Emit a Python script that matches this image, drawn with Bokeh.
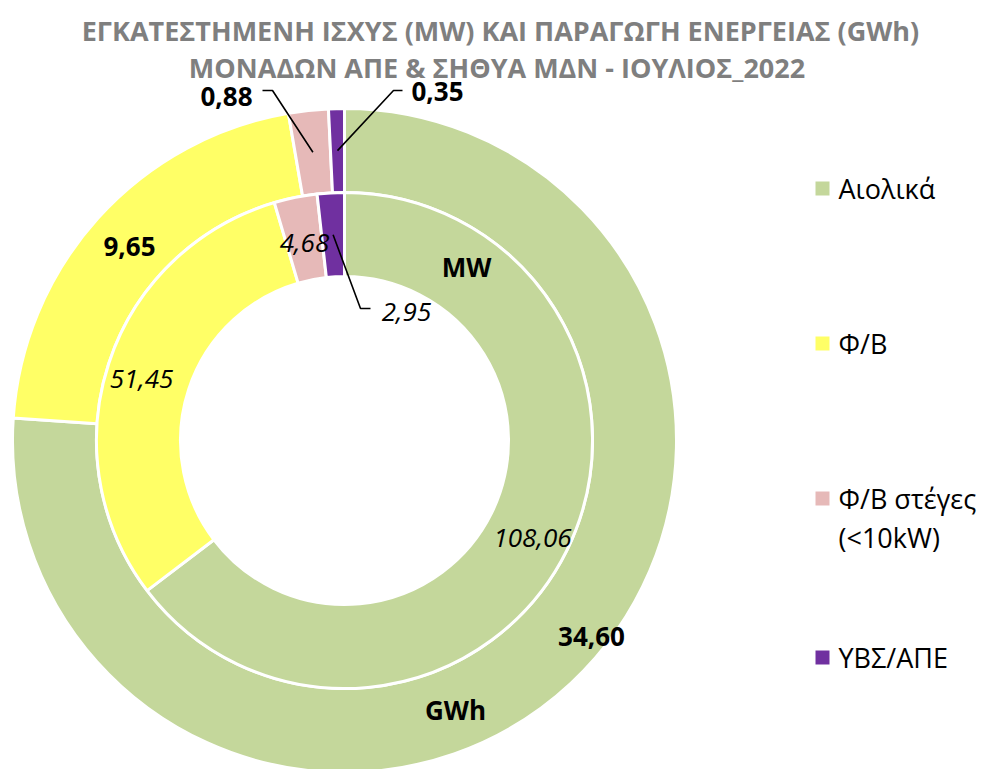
import numpy as np
from bokeh.plotting import figure
from bokeh.models import Range1d
from bokeh.core.properties import value
from bokeh.embed import file_html
from bokeh.resources import INLINE

# ---------------- data ----------------
categories = ["Αιολικά", "Φ/Β", "Φ/Β στέγες (<10kW)", "ΥΒΣ/ΑΠΕ"]
legend_lines = [["Αιολικά"], ["Φ/Β"], ["Φ/Β στέγες", "(<10kW)"], ["ΥΒΣ/ΑΠΕ"]]
gwh_values = [34.60, 9.65, 0.88, 0.35]      # outer ring (GWh)
mw_values = [108.06, 51.45, 4.68, 2.95]     # inner ring (MW)
colors = ["#C4D79B", "#FFFF66", "#E6B9B8", "#7030A0"]
title_lines = ["ΕΓΚΑΤΕΣΤΗΜΕΝΗ ΙΣΧΥΣ (MW) ΚΑΙ ΠΑΡΑΓΩΓΗ ΕΝΕΡΓΕΙΑΣ (GWh)",
               "ΜΟΝΑΔΩΝ ΑΠΕ & ΣΗΘΥΑ  ΜΔΝ - ΙΟΥΛΙΟΣ_2022"]
ring_names = ["GWh", "MW"]

# ---------------- layout ----------------
W, H = 980, 769
def Y(sy):  # screen y -> data y
    return 769 - sy

FONT = "Open Sans"
p = figure(width=W, height=H, x_range=Range1d(0, W), y_range=Range1d(0, H),
           output_backend="svg", toolbar_location=None, min_border=0)
p.axis.visible = False
p.grid.visible = False
p.outline_line_color = None
p.background_fill_color = "white"
p.border_fill_color = "white"

cx, cy = 344, Y(440)
r_hole, r_mid, r_out = 164, 248, 332


def ring(vals, r0, r1):
    v = np.array(vals, dtype=float)
    frac = v / v.sum()
    cum = np.concatenate([[0.0], np.cumsum(frac)])
    start = np.pi / 2 - 2 * np.pi * cum[:-1]
    end = np.pi / 2 - 2 * np.pi * cum[1:]
    p.annular_wedge(x=cx, y=cy, inner_radius=r0, outer_radius=r1,
                    start_angle=list(start), end_angle=list(end), direction="clock",
                    fill_color=colors, line_color="white", line_width=3)
    mids = np.pi / 2 - 2 * np.pi * (cum[:-1] + cum[1:]) / 2
    rm = (r0 + r1) / 2
    return [(cx + rm * np.cos(a), cy + rm * np.sin(a)) for a in mids]


outer_mid = ring(gwh_values, r_mid, r_out)
inner_mid = ring(mw_values, r_hole, r_mid)

fmt = lambda v: f"{v:.2f}".replace(".", ",")

# label positions (screen px)
outer_pos = [(591, 636), (129, 246), (226, 96), (437, 91)]
inner_pos = [(532, 537), (141, 378), (304, 242), (406, 311)]

p.text(x=[q[0] for q in outer_pos], y=[Y(q[1]) for q in outer_pos],
       text=[fmt(v) for v in gwh_values], text_font=value(FONT), text_font_style="bold",
       text_font_size="26px", text_align="center", text_baseline="middle", text_color="black")
p.text(x=[q[0] for q in inner_pos], y=[Y(q[1]) for q in inner_pos],
       text=[fmt(v) for v in mw_values], text_font=value(FONT), text_font_style="italic",
       text_font_size="26px", text_align="center", text_baseline="middle", text_color="black")

# leader lines
lead_xs, lead_ys = [], []
m = outer_mid[2]
lead_xs.append([262, 272, m[0]]); lead_ys.append([Y(90), Y(90), m[1]])
m = outer_mid[3]
lead_xs.append([402, 393, m[0]]); lead_ys.append([Y(90), Y(90), m[1]])
m = inner_mid[3]
lead_xs.append([m[0], 360, 370]); lead_ys.append([m[1], Y(308), Y(308)])
p.multi_line(xs=lead_xs, ys=lead_ys, line_color="black", line_width=1.6)

# ring names
p.text(x=[455, 466], y=[Y(709), Y(266)], text=ring_names, text_font=value(FONT),
       text_font_style="bold", text_font_size="26px", text_align="center",
       text_baseline="middle", text_color="black")

# title
p.text(x=[500, 500], y=[Y(30), Y(67)], text=title_lines, text_font=value(FONT),
       text_font_style="bold", text_font_size="27px", text_align="center",
       text_baseline="middle", text_color="#7F7F7F")

# legend
leg_y = [188, 343, 498, 657]
p.rect(x=[822] * 4, y=[Y(v) for v in leg_y], width=14, height=14,
       fill_color=colors, line_color=None)
lx, ly, lt = [], [], []
for yy, lines in zip(leg_y, legend_lines):
    for k, t in enumerate(lines):
        lx.append(838); ly.append(Y(yy + 39 * k)); lt.append(t)
p.text(x=lx, y=ly, text=lt, text_font=value(FONT), text_font_size="27px",
       text_align="left", text_baseline="middle", text_color="black")

open("out.html", "w").write(file_html(p, INLINE))
